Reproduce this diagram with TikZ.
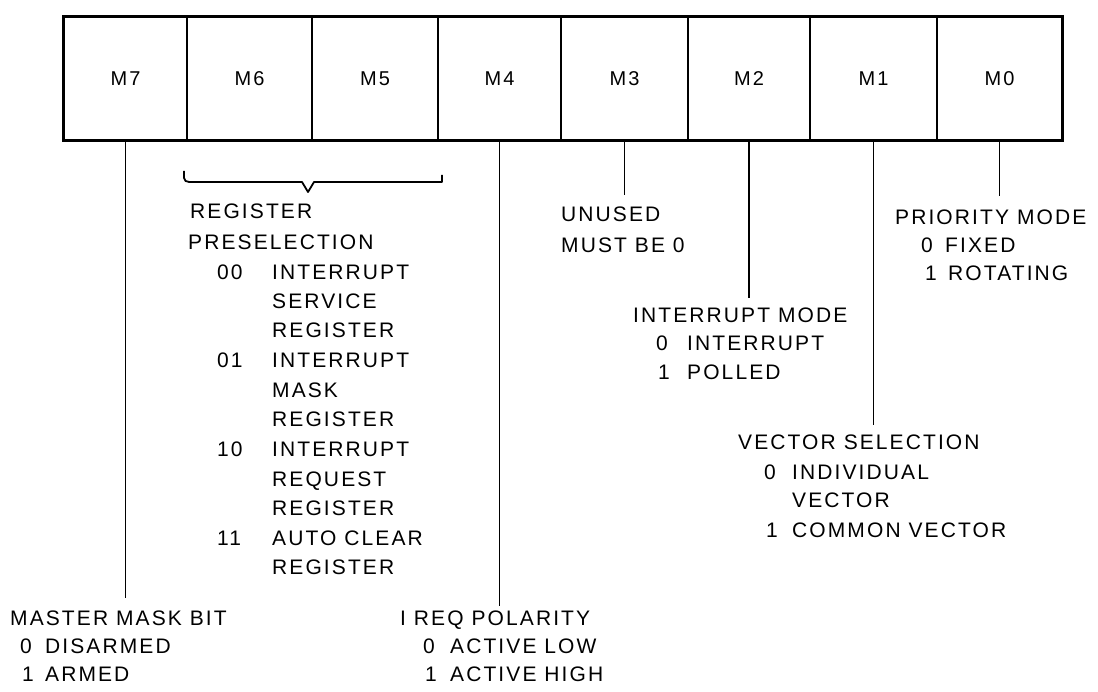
\documentclass[tikz,border=0pt]{standalone}
\usepackage{fontspec}
\setmainfont{Liberation Sans}[LetterSpace=10]
\begin{document}
\begin{tikzpicture}[x=1pt,y=-1pt,
  cell/.style={draw, line width=1.8pt, rectangle, inner sep=0pt, minimum height=123pt, font=\fontsize{20}{20}\selectfont},
  lbl/.style={anchor=west, inner sep=0pt, text height=15pt, text depth=0pt, font=\fontsize{21}{21}\selectfont},
  lead/.style={line width=1.8pt},
  outer/.style={line width=3pt}
]
\useasboundingbox (0,0) rectangle (1098,692);
% register cells
\node[cell, minimum width=123pt] (m7) at (125.5,78.5) {M7};
\node[cell, minimum width=125pt] (m6) at (249.5,78.5) {M6};
\node[cell, minimum width=126pt] (m5) at (375,78.5) {M5};
\node[cell, minimum width=123pt] (m4) at (499.5,78.5) {M4};
\node[cell, minimum width=127pt] (m3) at (624.5,78.5) {M3};
\node[cell, minimum width=122pt] (m2) at (749,78.5) {M2};
\node[cell, minimum width=127pt] (m1) at (873.5,78.5) {M1};
\node[cell, minimum width=125pt] (m0) at (999.5,78.5) {M0};
\draw[outer] (m7.north west) rectangle (m0.south east);
% leader end points
\coordinate (e7) at (125.5,598);
\coordinate (e4) at (499.5,606);
\coordinate (e3) at (624.5,195);
\coordinate (e2) at (749,298);
\coordinate (e1) at (873.5,425);
\coordinate (e0) at (999.5,196);
\draw[lead] (m7) -- (e7);
\draw[lead] (m4) -- (e4);
\draw[lead] (m3) -- (e3);
\draw[lead] (m2) -- (e2);
\draw[lead] (m1) -- (e1);
\draw[lead] (m0) -- (e0);
% brace under M6/M5
\coordinate (bl) at (184,171);
\coordinate (br) at (442,175);
\coordinate (bt) at (308,192);
\draw[line width=1.8pt, line join=round] (bl) -- (184,178) to[out=-90,in=180] (189,182) -- (302,182) -- (bt) -- (314,182) -- (442,182) -- (br);
% register preselection
\node[lbl] (rp1) at (190,211) {REGISTER};
\node[lbl] (rp2) at (188,242) {PRESELECTION};
\node[lbl] (c00) at (217,272) {00};
\node[lbl] (r1) at (272,272) {INTERRUPT};
\node[lbl] (r2) at (272,301) {SERVICE};
\node[lbl] (r3) at (272,330) {REGISTER};
\node[lbl] (c01) at (217,360) {01};
\node[lbl] (r4) at (272,360) {INTERRUPT};
\node[lbl] (r5) at (272,390) {MASK};
\node[lbl] (r6) at (272,419) {REGISTER};
\node[lbl] (c10) at (217,449) {10};
\node[lbl] (r7) at (272,449) {INTERRUPT};
\node[lbl] (r8) at (272,479) {REQUEST};
\node[lbl] (r9) at (272,508) {REGISTER};
\node[lbl] (c11) at (217,538) {11};
\node[lbl] (r10) at (272,538) {AUTO CLEAR};
\node[lbl] (r11) at (272,567) {REGISTER};
% unused
\node[lbl] (u1) at (561,214) {UNUSED};
\node[lbl] (u2) at (561,245) {MUST BE 0};
% interrupt mode
\node[lbl] (im) at (633,315) {INTERRUPT MODE};
\node[lbl] (im0) at (656,343) {0};
\node[lbl] (im0t) at (687,343) {INTERRUPT};
\node[lbl] (im1) at (658,372) {1};
\node[lbl] (im1t) at (687,372) {POLLED};
% vector selection
\node[lbl] (vs) at (738,442) {VECTOR SELECTION};
\node[lbl] (vs0) at (764,472) {0};
\node[lbl] (vs0t) at (792,472) {INDIVIDUAL};
\node[lbl] (vs0u) at (792,500) {VECTOR};
\node[lbl] (vs1) at (766,530) {1};
\node[lbl] (vs1t) at (792,530) {COMMON VECTOR};
% priority mode
\node[lbl] (pm) at (895,217) {PRIORITY MODE};
\node[lbl] (pm0) at (921,245) {0};
\node[lbl] (pm0t) at (945,245) {FIXED};
\node[lbl] (pm1) at (925,273) {1};
\node[lbl] (pm1t) at (948,273) {ROTATING};
% master mask bit
\node[lbl] (mm) at (10,618) {MASTER MASK BIT};
\node[lbl] (mm0) at (20,646) {0};
\node[lbl] (mm0t) at (45,646) {DISARMED};
\node[lbl] (mm1) at (22,674) {1};
\node[lbl] (mm1t) at (45,674) {ARMED};
% ireq polarity
\node[lbl] (ip) at (400,618) {I REQ POLARITY};
\node[lbl] (ip0) at (423,646) {0};
\node[lbl] (ip0t) at (450,646) {ACTIVE LOW};
\node[lbl] (ip1) at (425,674) {1};
\node[lbl] (ip1t) at (450,674) {ACTIVE HIGH};
\end{tikzpicture}
\end{document}
